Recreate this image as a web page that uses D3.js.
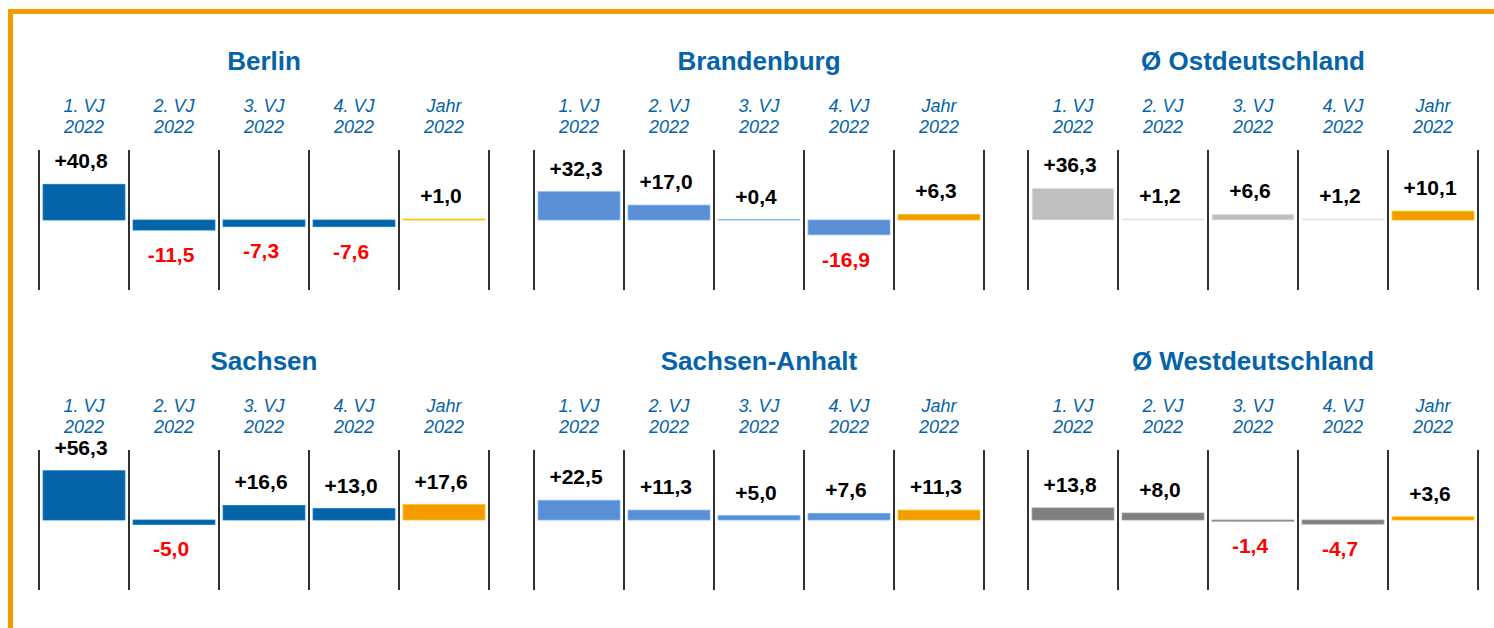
<!DOCTYPE html>
<html>
<head>
<meta charset="utf-8">
<script src="https://d3js.org/d3.v7.min.js"></script>
<style>
  body { margin: 0; background: #fff; }
  svg { display: block; font-family: "Liberation Sans", Arial, sans-serif; }
</style>
</head>
<body>
<svg id="chart" width="1494" height="628"></svg>
<script>
// data
var regions = ["Berlin", "Brandenburg", "Ø Ostdeutschland", "Sachsen", "Sachsen-Anhalt", "Ø Westdeutschland"];
var periods = ["1. VJ", "2. VJ", "3. VJ", "4. VJ", "Jahr"];
var periodYear = "2022";

var berlin         = [40.8, -11.5, -7.3, -7.6, 1.0];
var brandenburg    = [32.3, 17.0, 0.4, -16.9, 6.3];
var ostdeutschland = [36.3, 1.2, 6.6, 1.2, 10.1];
var sachsen        = [56.3, -5.0, 16.6, 13.0, 17.6];
var sachsenAnhalt  = [22.5, 11.3, 5.0, 7.6, 11.3];
var westdeutschland = [13.8, 8.0, -1.4, -4.7, 3.6];

var seriesValues = [berlin, brandenburg, ostdeutschland, sachsen, sachsenAnhalt, westdeutschland];
var regionColors = ["#0563a8", "#5a8fd6", "#bfbfbf", "#0563a8", "#5a8fd6", "#7f7f7f"];
var yearColor = "#f39c00";
var titleBlue = "#0563a8";

// layout
var panelX = [39, 534, 1028],
    panelY = [150, 450],
    panelW = 450,
    panelH = 140;

var svg = d3.select("#chart");

// orange frame on top and left
svg.append("path")
    .attr("d", "M10.5,628 L10.5,11.5 L1494,11.5")
    .attr("fill", "none")
    .attr("stroke", yearColor)
    .attr("stroke-width", 5);

var x = d3.scaleBand()
    .domain(periods)
    .range([0, panelW])
    .paddingInner(0.09)
    .paddingOuter(0.045);

var y = d3.scaleLinear()
    .domain([-80, 80])
    .range([panelH, 0]);

function fmt(v) {
    return (v > 0 ? "+" : "") + v.toFixed(1).replace(".", ",");
}

regions.forEach(function(name, r) {
    var vals = seriesValues[r];
    var g = svg.append("g")
        .attr("transform", "translate(" + panelX[r % 3] + "," + panelY[Math.floor(r / 3)] + ")");

    // title
    g.append("text")
        .attr("x", panelW / 2)
        .attr("y", -80)
        .attr("text-anchor", "middle")
        .style("font-size", "26px")
        .style("font-weight", "bold")
        .style("fill", titleBlue)
        .text(name);

    // column headers
    var head = g.selectAll(".head")
        .data(periods)
        .enter().append("text")
        .attr("class", "head")
        .attr("text-anchor", "middle")
        .style("font-size", "18px")
        .style("font-style", "italic")
        .style("fill", titleBlue);
    head.append("tspan")
        .attr("x", function(d) { return x(d) + x.bandwidth() / 2; })
        .attr("y", -38)
        .text(function(d) { return d; });
    head.append("tspan")
        .attr("x", function(d) { return x(d) + x.bandwidth() / 2; })
        .attr("y", -17)
        .text(periodYear);

    // separators
    var half = (x.step() - x.bandwidth()) / 2;
    var seps = periods.map(function(d) { return x(d) - half; }).concat([panelW]);
    g.selectAll(".sep")
        .data(seps)
        .enter().append("line")
        .attr("class", "sep")
        .attr("x1", function(d) { return d; })
        .attr("x2", function(d) { return d; })
        .attr("y1", 0)
        .attr("y2", panelH)
        .attr("stroke", "#1a1a1a")
        .attr("stroke-width", 1.8);

    // bars
    var rows = periods.map(function(p, i) { return { p: p, v: vals[i], jahr: i == periods.length - 1 }; });
    g.selectAll(".bar")
        .data(rows)
        .enter().append("rect")
        .attr("class", "bar")
        .attr("x", function(d) { return x(d.p); })
        .attr("width", x.bandwidth())
        .attr("y", function(d) { return y(Math.max(0, d.v)); })
        .attr("height", function(d) { return Math.abs(y(d.v) - y(0)); })
        .attr("fill", function(d) { return d.jahr ? yearColor : regionColors[r]; })
        .attr("stroke", function(d) { return d3.color(d.jahr ? yearColor : regionColors[r]).brighter(0.6); })
        .attr("stroke-width", 0.8);

    // value labels
    g.selectAll(".val")
        .data(rows)
        .enter().append("text")
        .attr("class", "val")
        .attr("x", function(d) { return x(d.p) + x.bandwidth() / 2 - 3; })
        .attr("y", function(d) { return d.v >= 0 ? y(d.v) - 16 : y(d.v) + 32; })
        .attr("text-anchor", "middle")
        .style("font-size", "21px")
        .style("font-weight", "bold")
        .style("fill", function(d) { return d.v < 0 ? "#ff0000" : "#000"; })
        .text(function(d) { return fmt(d.v); });
});
</script>
</body>
</html>
